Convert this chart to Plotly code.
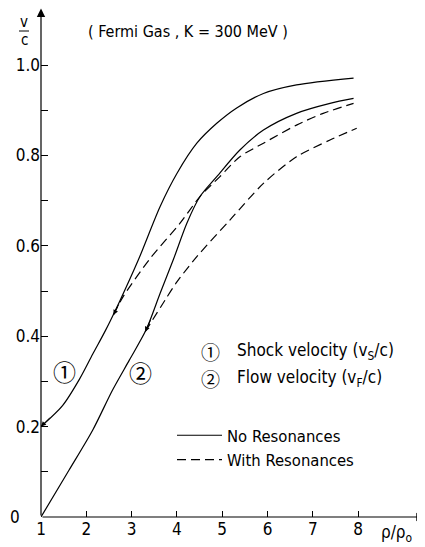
import plotly.graph_objects as go

# ---- data ----
shock_nores_x = [1.0, 1.48, 1.85, 2.14, 2.43, 2.74, 3.15, 3.63, 4.0, 4.44, 4.88, 5.32, 5.91, 6.64, 7.9]
shock_nores_y = [0.2, 0.247, 0.305, 0.36, 0.414, 0.478, 0.569, 0.687, 0.76, 0.827, 0.871, 0.905, 0.937, 0.956, 0.971]

shock_res_x = [2.6, 2.81, 3.41, 4.07, 4.51, 4.95, 5.39, 5.91, 6.64, 7.23, 7.9]
shock_res_y = [0.447, 0.487, 0.572, 0.65, 0.709, 0.753, 0.797, 0.827, 0.867, 0.893, 0.915]

flow_nores_x = [1.0, 1.62, 2.14, 2.58, 2.95, 3.32, 3.63, 3.92, 4.22, 4.51, 4.88, 5.39, 5.91, 6.64, 7.38, 7.9]
flow_nores_y = [0.0, 0.104, 0.192, 0.281, 0.347, 0.414, 0.495, 0.569, 0.65, 0.709, 0.753, 0.812, 0.856, 0.893, 0.915, 0.926]

flow_res_x = [3.3, 3.74, 4.0, 4.44, 5.17, 5.91, 6.64, 7.38, 7.97]
flow_res_y = [0.41, 0.48, 0.52, 0.576, 0.657, 0.738, 0.797, 0.834, 0.86]

x_ticks = [1, 2, 3, 4, 5, 6, 7, 8]
y_ticks = [0, 0.1, 0.2, 0.3, 0.4, 0.5, 0.6, 0.7, 0.8, 0.9, 1.0]
y_ticktext = ["0\u2003\u00a0", "", "0.2", "", "0.4", "", "0.6", "", "0.8", "", "1.0"]

FONT = "DejaVu Sans Condensed, Liberation Sans Narrow, sans-serif"
CIRC = "Noto Sans CJK JP, DejaVu Sans, sans-serif"

# The page body has an 8px margin, so the figure sits at (8, 8) on screen.
# Plot area on screen: x 41..425, y 8..517  -> figure margins l=33, t=0, b=30
def px(xs):
    return (xs - 41) / 384.0

def py(ys):
    return (517 - ys) / 509.0

fig = go.Figure()
solid = dict(color="black", width=1.2, shape="spline", smoothing=0.8)
dashed = dict(color="black", width=1.2, shape="spline", smoothing=0.8, dash="9px,5px")

fig.add_trace(go.Scatter(x=shock_nores_x, y=shock_nores_y, mode="lines", line=solid,
                         name="No Resonances", legendgroup="a", showlegend=True))
fig.add_trace(go.Scatter(x=flow_nores_x, y=flow_nores_y, mode="lines", line=solid,
                         name="No Resonances", legendgroup="a", showlegend=False))
fig.add_trace(go.Scatter(x=shock_res_x, y=shock_res_y, mode="lines", line=dashed,
                         name="With Resonances", legendgroup="b", showlegend=True))
fig.add_trace(go.Scatter(x=flow_res_x, y=flow_res_y, mode="lines", line=dashed,
                         name="With Resonances", legendgroup="b", showlegend=False))

ann = []
# axes with arrows
ann.append(dict(x=9.47, y=0, ax=1, ay=0, xref="x", yref="y", axref="x", ayref="y",
                text="", showarrow=True, arrowhead=2, arrowsize=1.4, arrowwidth=1.2, arrowcolor="black"))
ann.append(dict(x=1, y=1.125, ax=1, ay=0, xref="x", yref="y", axref="x", ayref="y",
                text="", showarrow=True, arrowhead=2, arrowsize=1.4, arrowwidth=1.2, arrowcolor="black"))
# small arrowheads on curves
for (cx, cy, dx, dy) in [(1.0, 0.2, 10, -10), (2.6, 0.447, 6, -12), (3.3, 0.41, 6, -13)]:
    ann.append(dict(x=cx, y=cy, ax=dx, ay=dy, xref="x", yref="y", text="", showarrow=True,
                    arrowhead=2, arrowsize=1, arrowwidth=1, arrowcolor="black"))

def ptext(xs, ys, text, size, family=FONT, xanchor="center"):
    return dict(x=px(xs), y=py(ys), xref="paper", yref="paper", text=text, showarrow=False,
                xanchor=xanchor, yanchor="middle", font=dict(family=family, size=size, color="black"))

# title text
ann.append(ptext(188, 32, "( Fermi Gas , K = 300 MeV )", 16))
# v/c
ann.append(ptext(24, 22, "v", 15))
ann.append(ptext(24, 40, "c", 15))
# rho/rho0
ann.append(ptext(396, 533, "ρ/ρ<sub>o</sub>", 17))
# inline circled labels
ann.append(dict(x=1.51, y=0.323, xref="x", yref="y", text="①", showarrow=False,
                font=dict(family=CIRC, size=23, color="black")))
ann.append(dict(x=3.19, y=0.321, xref="x", yref="y", text="②", showarrow=False,
                font=dict(family=CIRC, size=23, color="black")))
# legend for curve numbers
ann.append(dict(x=4.75, y=0.367, xref="x", yref="y", text="①", showarrow=False,
                font=dict(family=CIRC, size=19, color="black")))
ann.append(dict(x=4.75, y=0.307, xref="x", yref="y", text="②", showarrow=False,
                font=dict(family=CIRC, size=19, color="black")))
ann.append(dict(x=5.28, y=0.367, xref="x", yref="y", xanchor="left",
                text="Shock velocity (v<sub>S</sub>/c)", showarrow=False,
                font=dict(family=FONT, size=17, color="black")))
ann.append(dict(x=5.28, y=0.307, xref="x", yref="y", xanchor="left",
                text="Flow velocity (v<sub>F</sub>/c)", showarrow=False,
                font=dict(family=FONT, size=17, color="black")))

fig.update_layout(
    width=417, height=539,
    margin=dict(l=33, r=0, t=0, b=30),
    paper_bgcolor="white", plot_bgcolor="white",
    annotations=ann,
    shapes=[dict(type="line", xref="paper", yref="paper", x0=px(19), x1=px(29),
                 y0=py(31), y1=py(31), line=dict(color="black", width=1))],
    showlegend=True,
    legend=dict(x=px(172), y=py(418), xanchor="left", yanchor="top", bgcolor="rgba(0,0,0,0)",
                font=dict(family=FONT, size=16.5, color="black"), tracegroupgap=0,
                itemwidth=45),
    xaxis=dict(range=[1, 9.477], showline=False, zeroline=False, showgrid=False, automargin=False,
               tickvals=x_ticks, ticks="inside", ticklen=6, tickcolor="black", tickwidth=1,
               tickfont=dict(family=FONT, size=17, color="black")),
    yaxis=dict(range=[0, 509 / 452.0], showline=False, zeroline=False, showgrid=False, automargin=False,
               tickvals=y_ticks, ticktext=y_ticktext, ticks="inside", ticklen=7,
               tickcolor="black", tickwidth=1,
               tickfont=dict(family=FONT, size=17, color="black")),
)

fig.write_html("out.html")
